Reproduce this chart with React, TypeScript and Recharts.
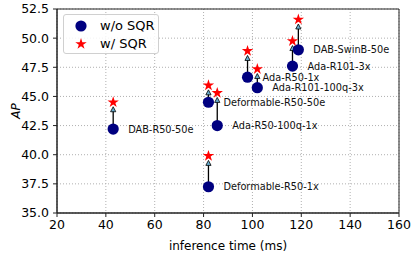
import { ScatterChart, Scatter, XAxis, YAxis, CartesianGrid, ReferenceLine, ReferenceArea, Legend } from 'recharts';

const MODELS = [
  'DAB-R50-50e',
  'Deformable-R50-1x',
  'Deformable-R50-50e',
  'Ada-R50-100q-1x',
  'Ada-R50-1x',
  'Ada-R101-100q-3x',
  'Ada-R101-3x',
  'DAB-SwinB-50e',
];
const TIME_MS = [43, 82, 82, 85.6, 98, 102, 116.4, 118.8];
const AP_BASE = [42.2, 37.25, 44.5, 42.5, 46.65, 45.75, 47.6, 49.0];
const AP_SQR = [44.5, 39.9, 45.95, 45.3, 48.9, 47.35, 49.75, 51.6];

const SERIES = ['w/o SQR', 'w/ SQR'];
const X_TICKS = [20, 40, 60, 80, 100, 120, 140, 160];
const Y_TICKS = [35, 37.5, 40, 42.5, 45, 47.5, 50, 52.5];

const NAVY = '#000080';
const RED = '#ff0000';
const FONT = '"DejaVu Sans", sans-serif';

const baseData = MODELS.map((name, i) => ({ name, x: TIME_MS[i], y: AP_BASE[i] }));
const sqrData = MODELS.map((name, i) => ({ name, x: TIME_MS[i], y: AP_SQR[i] }));

function starPoints(cx: number, cy: number, R: number) {
  const r = R * 0.382;
  const pts: string[] = [];
  for (let k = 0; k < 10; k++) {
    const a = -Math.PI / 2 + (k * Math.PI) / 5;
    const rad = k % 2 === 0 ? R : r;
    pts.push(`${cx + rad * Math.cos(a)},${cy + rad * Math.sin(a)}`);
  }
  return pts.join(' ');
}

const BaseDot = (props: any) => {
  const { cx, cy, payload } = props;
  return (
    <g>
      <circle cx={cx} cy={cy} r={5.6} fill={NAVY} />
      <text x={cx + 15} y={cy} dominantBaseline="central" fontSize={9.75} fill="#111">
        {payload.name}
      </text>
    </g>
  );
};

const StarDot = (props: any) => {
  const { cx, cy } = props;
  return <polygon points={starPoints(cx, cy, 6)} fill={RED} />;
};

// line from the plain model to (just under) its SQR version, with a small head
const Arrow = (props: any) => {
  const { x1, y1, x2, y2 } = props;
  const tip = y2 + 4.5;
  return (
    <g>
      <line x1={x1} y1={y1} x2={x2} y2={tip + 4} stroke="#000" strokeWidth={1.3} />
      <polygon
        points={`${x2},${tip} ${x2 - 2.6},${tip + 5} ${x2 + 2.6},${tip + 5}`}
        fill="#6aaed0"
        stroke="#000"
        strokeWidth={0.8}
      />
    </g>
  );
};

const LegendBox = () => (
  <div
    style={{
      width: 96,
      height: 40,
      boxSizing: 'border-box',
      border: '1px solid #d0d0d0',
      borderRadius: 3,
      background: 'rgba(255,255,255,0.85)',
      padding: '2px 0',
      fontSize: 13,
      color: '#000',
    }}
  >
    {SERIES.map((s, i) => (
      <div key={s} style={{ display: 'flex', alignItems: 'center', height: 18 }}>
        <svg width={34} height={18}>
          {i === 0 ? (
            <circle cx={17} cy={9} r={5.6} fill={NAVY} />
          ) : (
            <polygon points={starPoints(17, 9, 6)} fill={RED} />
          )}
        </svg>
        <span style={{ marginLeft: 2, lineHeight: '18px' }}>{s}</span>
      </div>
    ))}
  </div>
);

export default function App() {
  return (
    <div style={{ position: 'absolute', left: 0, top: 0, fontFamily: FONT }}>
      <ScatterChart width={415} height={255} margin={{ top: 9, right: 16, bottom: 0, left: 0 }}>
        <CartesianGrid stroke="#b0b0b0" strokeDasharray="1 2" />
        <XAxis
          type="number"
          dataKey="x"
          domain={[20, 160]}
          ticks={X_TICKS}
          height={42}
          tickSize={4}
          tickMargin={3}
          tick={{ fill: '#000', fontSize: 12.5 }}
          axisLine={{ stroke: '#222' }}
          tickLine={{ stroke: '#222' }}
          label={{ value: 'inference time (ms)', position: 'insideBottom', offset: 5, fill: '#000', fontSize: 12 }}
        />
        <YAxis
          type="number"
          dataKey="y"
          domain={[35, 52.5]}
          ticks={Y_TICKS}
          width={57}
          tickSize={4}
          tickMargin={4}
          tickFormatter={(v: number) => v.toFixed(1)}
          tick={{ fill: '#000', fontSize: 12.5 }}
          axisLine={{ stroke: '#222' }}
          tickLine={{ stroke: '#222' }}
          label={{
            value: 'AP',
            angle: -90,
            position: 'insideLeft',
            offset: 16,
            fill: '#000',
            fontSize: 12,
            fontStyle: 'italic',
            style: { textAnchor: 'middle' },
          }}
        />
        <ReferenceArea x1={20} x2={160} y1={35} y2={52.5} fill="none" stroke="#222" strokeWidth={1} />
        {MODELS.map((m, i) => (
          <ReferenceLine
            key={m}
            segment={[
              { x: TIME_MS[i], y: AP_BASE[i] },
              { x: TIME_MS[i], y: AP_SQR[i] },
            ]}
            shape={Arrow}
          />
        ))}
        <Scatter name={SERIES[0]} data={baseData} shape={BaseDot} isAnimationActive={false} />
        <Scatter name={SERIES[1]} data={sqrData} shape={StarDot} isAnimationActive={false} />
        <Legend
          layout="horizontal"
          verticalAlign="middle"
          align="center"
          wrapperStyle={{ left: 63, top: 14, width: 96, height: 40 }}
          content={() => <LegendBox />}
        />
      </ScatterChart>
    </div>
  );
}
